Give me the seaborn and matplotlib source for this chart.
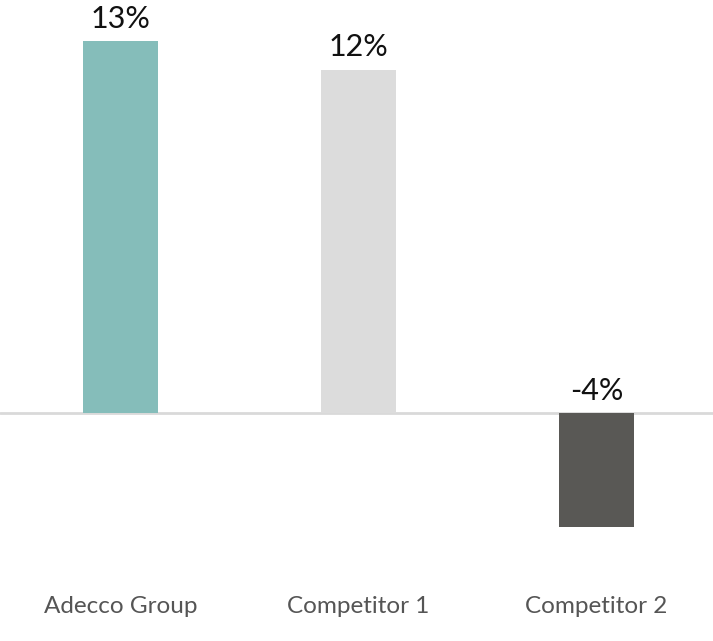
import matplotlib
matplotlib.use("Agg")
import matplotlib.pyplot as plt
import seaborn as sns
import pandas as pd

# chart values
companies = ["Adecco Group", "Competitor 1", "Competitor 2"]
growth = [13, 12, -4]
bar_colors = ["#85BDBA", "#DCDCDC", "#595855"]

sns.set_style("white")
plt.rcParams['font.family'] = ['Lato', 'DejaVu Sans']

df = pd.DataFrame({"company": companies, "growth": growth})

fig = plt.figure(figsize=(7.13, 6.41), dpi=100)
ax = fig.add_axes([0, 0, 1, 1])

sns.barplot(data=df, x="company", y="growth", hue="company",
            palette=bar_colors, width=0.315, saturation=1,
            legend=False, linewidth=0, ax=ax)

ax.set_xlim(-0.506, 2.489)
ax.set_ylim(-7.97, 14.44)
ax.axhline(0, color="#D9D9D9", linewidth=2, zorder=0)

# value labels
for i, v in enumerate(growth):
    top = max(v, 0)
    ax.annotate(f"{v}%", (i, top), xytext=(0, 6), textcoords="offset points",
                ha="center", va="bottom", fontsize=22, color="#111111")

# category labels along the bottom
for i, name in enumerate(companies):
    ax.text(i, -6.75, name, ha="center", va="center", fontsize=17.5,
            color="#555555")

ax.set_xticks([])
ax.set_yticks([])
ax.set_xlabel("")
ax.set_ylabel("")
sns.despine(ax=ax, left=True, bottom=True)

fig.savefig("out.png", dpi=100)
